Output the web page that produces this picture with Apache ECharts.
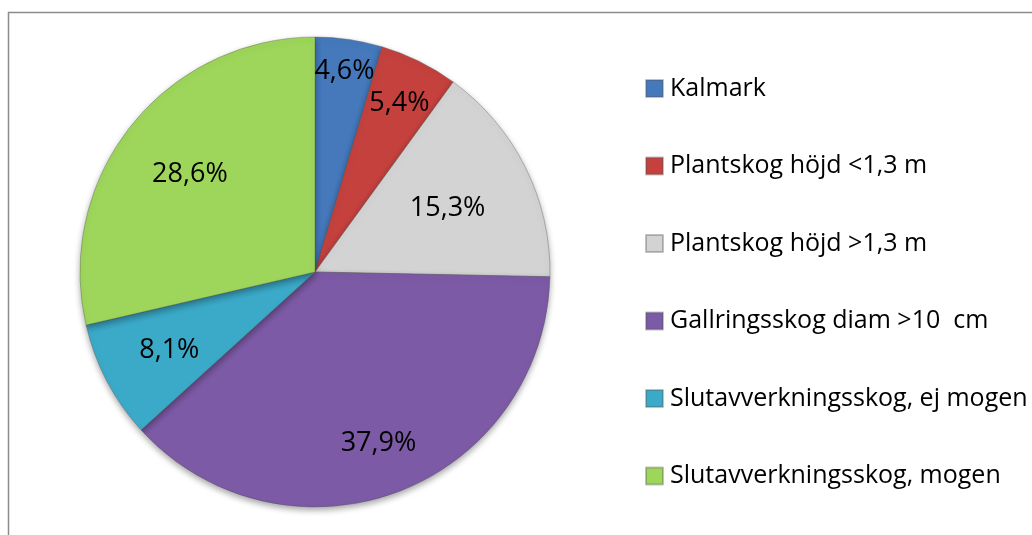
<!DOCTYPE html>
<html><head><meta charset="utf-8">
<script src="https://cdn.jsdelivr.net/npm/echarts@6/dist/echarts.min.js"></script>
<style>html,body{margin:0;padding:0;background:#fff}#c{width:1032px;height:535px}</style>
</head><body><div id="c"></div>
<script>
const categories = ['Kalmark','Plantskog höjd <1,3 m','Plantskog höjd >1,3 m','Gallringsskog diam >10  cm','Slutavverkningsskog, ej mogen','Slutavverkningsskog, mogen'];
const values = [4.6, 5.4, 15.3, 37.9, 8.1, 28.6];
const colors = ['#4579BC','#C4413E','#D3D3D3','#7C5AA6','#3BA9C8','#9DD65A'];
const labelRadialFactor = [0.87, 0.81, 0.63, 0.77, 0.70, 0.68];

const chart = echarts.init(document.getElementById('c'), null, {renderer:'canvas'});
const fontFam = '"Open Sans", "Noto Sans", sans-serif';
chart.setOption({
  animation:false,
  backgroundColor:'#fff',
  graphic:[{type:'rect', shape:{x:8.5,y:12.5,width:1100,height:600}, style:{fill:'none',stroke:'#8c8c8c',lineWidth:1.5}, silent:true, z:-1}],
  legend:{
    orient:'vertical', left:640, top:71, itemWidth:17, itemHeight:17, itemGap:52.5,
    icon:'rect',
    textStyle:{fontFamily:fontFam, fontSize:25, color:'#000', lineHeight:23, padding:[0,0,0,2]},
    data:categories
  },
  series:[{
    type:'pie', center:[315,272], radius:[0,235], startAngle:90, clockwise:true,
    data:categories.map((n,i)=>({name:n, value:values[i], itemStyle:{color:colors[i]}})),
    itemStyle:{borderColor:'rgba(80,80,80,0.35)', borderWidth:1, shadowBlur:6, shadowOffsetY:3, shadowColor:'rgba(0,0,0,0.35)'},
    label:{show:true, position:'inside', formatter:p=>p.value.toFixed(1).replace('.',',')+'%', fontFamily:fontFam, fontSize:27, color:'#000'},
    labelLine:{show:false},
    labelLayout:function(p){
      try{
        const d = chart.getModel().getSeriesByIndex(0).getData();
        const l = d.getItemLayout(p.dataIndex);
        const mid = (l.startAngle + l.endAngle)/2;
        const f = labelRadialFactor[p.dataIndex];
        return {x: l.cx + Math.cos(mid)*l.r*f, y: l.cy + Math.sin(mid)*l.r*f + 2, align:'center', verticalAlign:'middle'};
      }catch(e){return {};}
    }
  }]
});
</script></body></html>
